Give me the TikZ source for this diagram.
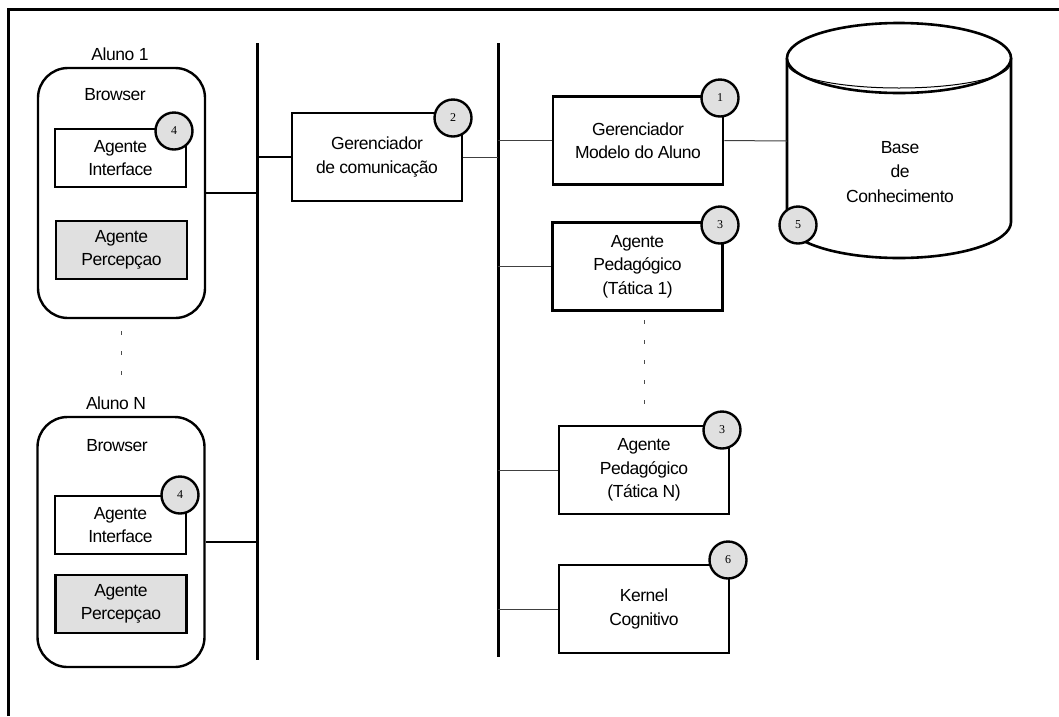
\documentclass[tikz,border=0pt]{standalone}
\usepackage{fontspec}
\setmainfont{Liberation Sans}[LetterSpace=-2.6]
\newfontfamily\numfont{Liberation Serif}
\begin{document}
\begin{tikzpicture}[x=1pt,y=-1pt,
  txt/.style={font=\fontsize{17.5}{23.5}\selectfont, align=center, inner sep=0pt},
  box/.style={txt, draw, line width=2.6pt, fill=white, minimum width=170pt, minimum height=88pt},
  smallbox/.style={box, minimum width=131pt, minimum height=58pt},
  graybox/.style={smallbox, fill=black!12},
  browser/.style={draw, line width=2.4pt, rounded corners=30pt, minimum width=167pt, minimum height=250pt, inner sep=0pt},
  badge/.style={circle, draw, line width=2.4pt, fill=black!12, minimum size=37pt, inner sep=0pt, font=\numfont\fontsize{12}{12}\selectfont},
  bus/.style={line width=3pt},
  heavy/.style={line width=2.6pt},
  light/.style={line width=1pt, black!75},
  dots/.style={line width=1pt, black!70, dash pattern=on 4pt off 16pt}
]
\useasboundingbox (0,0) rectangle (1059,716);

% outer frame
\draw[line width=3pt] (8,716) -- (8,9) -- (1059,9);

% communication buses
\coordinate (busLt) at (257,43);
\coordinate (busLb) at (257,660);
\coordinate (busRt) at (498,43);
\coordinate (busRb) at (498,657);
\draw[bus] (busLt) -- (busLb);
\draw[bus] (busRt) -- (busRb);

% student 1
\node[txt] (al1) at (120,54) {Aluno 1};
\node[browser] (br1) at (121.5,193) {};
\node[txt] (bw1) at (115,95) {Browser};
\node[smallbox] (ai1) at (120.5,158) {Agente\\Interface};
\node[graybox] (pc1) at (121.5,250) {Agente\\Percepçao};
\node[badge] (b4a) at (174,131) {4};

% student N
\node[txt] (aln) at (116,403) {Aluno N};
\node[browser] (brn) at (121,542) {};
\node[txt] (bwn) at (117,446) {Browser};
\node[smallbox] (ain) at (120.5,525) {Agente\\Interface};
\node[graybox] (pcn) at (121,604) {Agente\\Percepçao};
\node[badge] (b4b) at (180,495) {4};

\coordinate (dl1) at (121,331);
\coordinate (dl2) at (121,376);
\draw[dots] (dl1) -- (dl2);

% communication manager
\node[box] (gc) at (377,157) {Gerenciador\\de comunicação};
\node[badge] (b2) at (453,118) {2};

% server side agents
\node[box] (gma) at (638,140.5) {Gerenciador\\Modelo do Aluno};
\node[badge] (b1) at (720,98) {1};
\node[box] (pt1) at (637.5,266.5) {Agente\\Pedagógico\\(Tática 1)};
\node[badge] (b3a) at (720,225) {3};
\node[box] (ptn) at (644,470) {Agente\\Pedagógico\\(Tática N)};
\node[badge] (b3b) at (722,430) {3};
\node[box] (kc) at (644,609) {Kernel\\Cognitivo};
\node[badge] (b6) at (728,560) {6};

\coordinate (dr1) at (644,320);
\coordinate (dr2) at (644,406);
\draw[dots] (dr1) -- (dr2);

% knowledge base cylinder
\draw[heavy, fill=white] (787,58) -- (787,222)
  arc[start angle=180, end angle=360, x radius=112pt, y radius=36pt] -- (1011,58);
\draw[heavy, fill=white] (899,58) ellipse[x radius=112pt, y radius=35pt];
\draw[line width=1pt] (788,64) arc[start angle=180, end angle=360, x radius=111pt, y radius=24pt];
\coordinate (kbL) at (787,141);
\node[txt, font=\fontsize{17.5}{24.5}\selectfont] (kb) at (900,172) {Base\\de\\Conhecimento};
\node[badge] (b5) at (798,225) {5};

% links
\draw[heavy] (br1.east) -- (br1.east -| busLt);
\draw[heavy] (brn.east) -- (brn.east -| busLt);
\draw[heavy] (gc.west) -- (gc.west -| busLt);
\draw[light] (gc.east) -- (gc.east -| busRt);
\draw[light] (gma.west) -- (gma.west -| busRt);
\draw[light] (gma.east) -- (kbL);
\draw[light] (pt1.west) -- (pt1.west -| busRt);
\draw[light] (ptn.west) -- (ptn.west -| busRt);
\draw[light] (kc.west) -- (kc.west -| busRt);
\end{tikzpicture}
\end{document}
